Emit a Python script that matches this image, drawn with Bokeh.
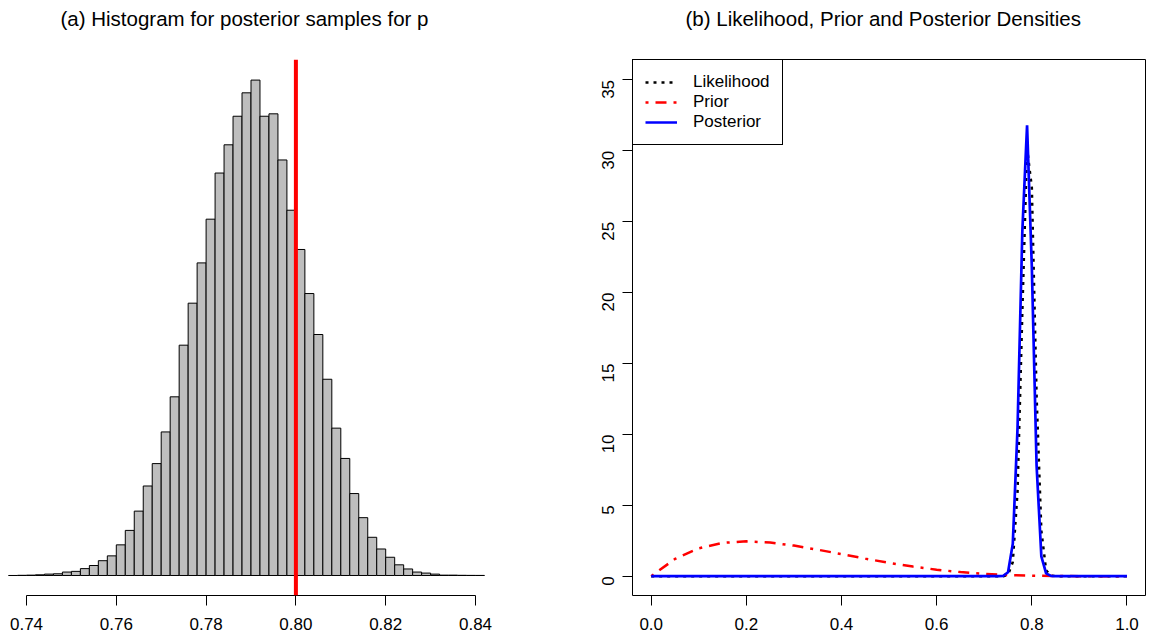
import math
from bokeh.plotting import figure
from bokeh.models import Range1d, Span, FixedTicker, Legend, LegendItem, Title
from bokeh.layouts import row
from bokeh.embed import file_html
from bokeh.resources import INLINE

FONT = "Liberation Sans"

# ---------------- data: panel (a) ----------------
hist_title = "(a) Histogram for posterior samples for p"
bin_start = 0.736
bin_width = 0.002
hist_counts = [0, 0.5, 1, 2, 4, 5, 10, 12, 20, 29, 43, 57, 89, 131, 187, 260, 325, 417,
               519, 669, 791, 908, 1035, 1169, 1251, 1334, 1402, 1439, 1334, 1341, 1207,
               1061, 947, 819, 700, 570, 428, 340, 238, 168, 111, 77, 53, 31, 19, 10, 7,
               4, 1, 1, 0.5, 0.3, 0.2]
true_p = 0.80
hist_ticks = [0.74, 0.76, 0.78, 0.80, 0.82, 0.84]
hist_tick_labels = ["0.74", "0.76", "0.78", "0.80", "0.82", "0.84"]

# ---------------- data: panel (b) ----------------
dens_title = "(b)  Likelihood, Prior and Posterior Densities"
grid_p = [0.0, 0.73, 0.74, 0.75, 0.76, 0.77, 0.78, 0.79, 0.80, 0.81, 0.82, 0.83, 0.84, 0.85, 1.0]
likelihood = [0, 0, 0, 0.1, 1.0, 6.0, 18.6, 30.2, 27.4, 12.7, 3.2, 0.42, 0.03, 0, 0]
posterior = [0, 0, 0.03, 0.28, 2.3, 10.5, 24.3, 31.8, 21.8, 7.8, 1.4, 0.2, 0.02, 0, 0]
prior_p = [0.0, 0.05, 0.10, 0.15, 0.20, 0.25, 0.30, 0.35, 0.40, 0.45, 0.50, 0.55, 0.60,
           0.65, 0.70, 0.75, 0.80, 0.85, 0.90, 0.95, 1.0]
prior = [0.0, 1.22, 1.97, 2.35, 2.46, 2.37, 2.16, 1.87, 1.56, 1.24, 0.94, 0.68, 0.46,
         0.29, 0.17, 0.088, 0.038, 0.013, 0.003, 0.0002, 0.0]
dens_xticks = [0.0, 0.2, 0.4, 0.6, 0.8, 1.0]
dens_xlabels = ["0.0", "0.2", "0.4", "0.6", "0.8", "1.0"]
dens_yticks = [0, 5, 10, 15, 20, 25, 30, 35]
dens_ylabels = ["0", "5", "10", "15", "20", "25", "30", "35"]
legend_labels = ["Likelihood", "Prior", "Posterior"]


def style_axis(ax, ticks, labels, bounds):
    ax.ticker = FixedTicker(ticks=ticks)
    ax.major_label_overrides = {t: l for t, l in zip(ticks, labels)}
    ax.bounds = bounds
    ax.axis_line_color = "black"
    ax.axis_line_width = 1
    ax.major_tick_line_color = "black"
    ax.major_tick_out = 10
    ax.major_tick_in = 0
    ax.minor_tick_line_color = None
    ax.major_label_text_font = FONT
    ax.major_label_text_font_size = "17px"
    ax.major_label_text_color = "black"


def style_title(p, text, offset):
    # spacer between the frame and the title, so the title sits near the top edge
    p.add_layout(Title(text=" ", text_font_size="10px", standoff=16), "above")
    p.title.text = text
    p.title.text_font = FONT
    p.title.text_font_size = "20.5px"
    p.title.text_font_style = "normal"
    p.title.text_color = "black"
    p.title.align = "left"
    p.title.offset = offset
    p.title.standoff = 2


# ---------------- panel (a) ----------------
p1 = figure(width=578, height=639, output_backend="svg", toolbar_location=None,
            x_range=Range1d(0.734209, 0.846236), y_range=Range1d(-58.1, 1498.8),
            y_axis_location=None, min_border_left=0, min_border_right=75,
            min_border_top=59, min_border_bottom=44, title="")
p1.outline_line_color = None
p1.xgrid.visible = False
p1.ygrid.visible = False
style_title(p1, hist_title, 60)

lefts = [bin_start + i * bin_width for i in range(len(hist_counts))]
rights = [l + bin_width for l in lefts]
p1.quad(left=lefts, right=rights, top=hist_counts, bottom=0,
        fill_color="#BEBEBE", line_color="black", line_width=1)
p1.add_layout(Span(location=true_p, dimension="height", line_color="#FF0000", line_width=4))
style_axis(p1.xaxis[0], hist_ticks, hist_tick_labels, (0.74, 0.84))
p1.xaxis.major_label_standoff = 12

# ---------------- panel (b) ----------------
p2 = figure(width=571, height=639, output_backend="svg", toolbar_location=None,
            x_range=Range1d(-0.0393, 1.0389), y_range=Range1d(-1.36, 36.44),
            min_border_left=54, min_border_right=4, min_border_top=59,
            min_border_bottom=44, title="")
p2.outline_line_color = "black"
p2.outline_line_width = 1
p2.outline_line_alpha = 1
p2.xgrid.visible = False
p2.ygrid.visible = False
style_title(p2, dens_title, 53)

r_lik = p2.line(grid_p, likelihood, line_color="black", line_width=2.5, line_dash="3 5")
r_pri = p2.line(prior_p, prior, line_color="#FF0000", line_width=2.5, line_dash="3 7 11 7")
r_post = p2.line(grid_p, posterior, line_color="#0000FF", line_width=2.7)

style_axis(p2.xaxis[0], dens_xticks, dens_xlabels, (0.0, 1.0))
p2.xaxis.major_label_standoff = 12
style_axis(p2.yaxis[0], dens_yticks, dens_ylabels, (0, 35))
p2.yaxis.major_label_orientation = math.pi / 2
p2.yaxis.major_label_standoff = 14

legend = Legend(items=[LegendItem(label=legend_labels[0], renderers=[r_lik]),
                       LegendItem(label=legend_labels[1], renderers=[r_pri]),
                       LegendItem(label=legend_labels[2], renderers=[r_post])],
                location="top_left", margin=0, padding=12, spacing=0,
                label_height=20, glyph_height=20, glyph_width=32, label_standoff=16,
                label_text_font=FONT, label_text_font_size="17px", label_text_color="black",
                border_line_color="black", border_line_width=1, border_line_alpha=1,
                background_fill_color="white", background_fill_alpha=1)
p2.add_layout(legend)

layout = row(p1, p2)
open("out.html", "w").write(file_html(layout, INLINE))
